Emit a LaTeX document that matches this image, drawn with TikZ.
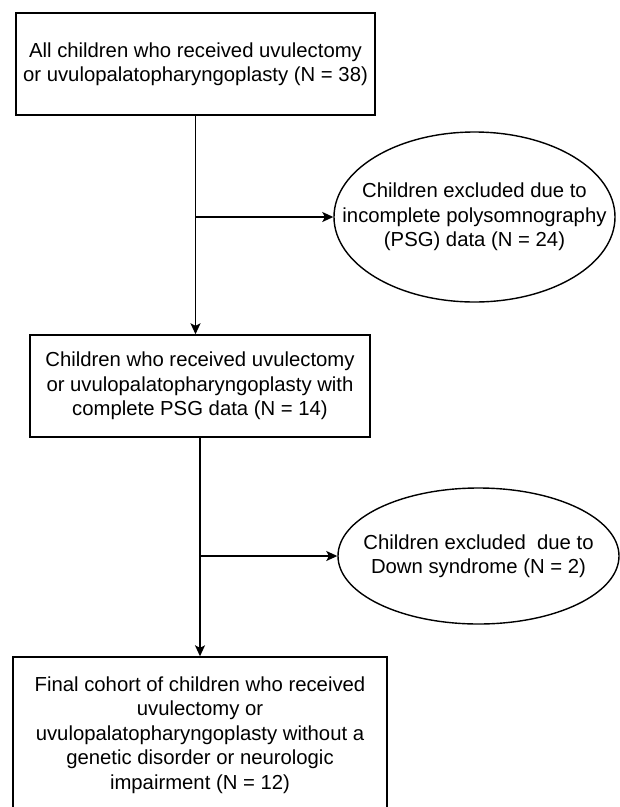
\documentclass[tikz,border=0pt]{standalone}
\usepackage{fontspec}
\setmainfont{Liberation Sans}
\usetikzlibrary{positioning,shapes.geometric,arrows.meta}

\begin{document}
\begin{tikzpicture}
   [x=1pt,y=-1pt,
    box/.style={rectangle,draw,line width=1.4pt,align=center,
      minimum height=102pt,inner sep=0pt,font=\fontsize{20.3}{24.5}\selectfont},
    excl/.style={ellipse,draw,line width=1.4pt,align=center,minimum width=281pt,
      inner xsep=-40pt,inner ysep=0pt,font=\fontsize{20.3}{24.5}\selectfont},
    flow/.style={->,line width=1.4pt,>={Stealth[length=11pt,width=10pt,inset=2.5pt]}}]
\clip (0,0) rectangle (620,807);
\node [box,minimum width=359pt] (all) at (195.5,64) {All children who received uvulectomy\\
               or uvulopalatopharyngoplasty (N = 38)};
\node [box,minimum width=340pt] (psg) at (200,386) {Children who received uvulectomy\\
               or uvulopalatopharyngoplasty with\\
               complete PSG data (N = 14)};
\node [box,minimum width=374pt,minimum height=156pt] (final) at (200,735) {Final cohort of children who received\\
               uvulectomy or\\
               uvulopalatopharyngoplasty without a\\
               genetic disorder or neurologic\\
               impairment (N = 12)};
\node [excl,minimum height=170pt] (nopsg) at (474.5,217) {Children excluded due to\\
               incomplete polysomnography\\
               (PSG) data (N = 24)};
\node [excl,minimum height=136pt] (down) at (478.5,556) {Children excluded\ \ due to\\
               Down syndrome (N = 2)};
\draw [flow] (all.south) -- (all.south |- psg.north);
\draw [flow] (all.south |- nopsg.west) -- (nopsg.west);
\draw [flow] (psg.south) -- (psg.south |- final.north);
\draw [flow] (psg.south |- down.west) -- (down.west);
\end{tikzpicture}
\end{document}
